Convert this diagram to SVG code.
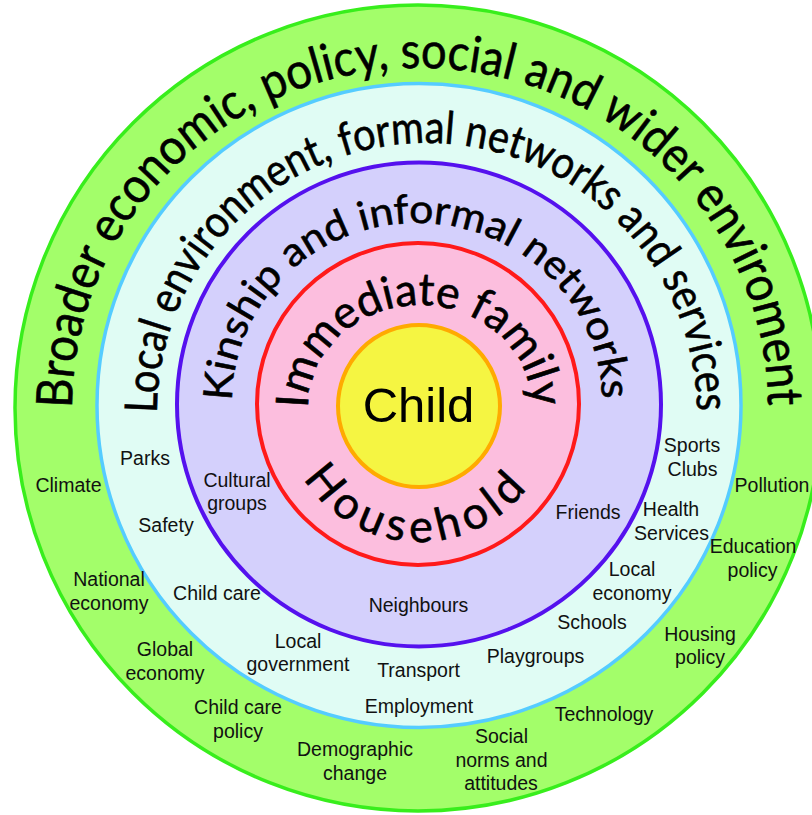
<svg xmlns="http://www.w3.org/2000/svg" xmlns:xlink="http://www.w3.org/1999/xlink" width="812" height="815" viewBox="0 0 812 815">
<style>
.arc{font-family:Lato,"Open Sans","DejaVu Sans",sans-serif;fill:#000;stroke:#000;stroke-width:0.6}
.lbl{font-family:"Liberation Sans",Arial,sans-serif;font-size:19.5px;fill:#111;text-anchor:middle}
</style>
<defs>
<path id="pBroader" d="M 72,408 A 348,340 0 0 1 768,408"/>
<path id="pLocal" d="M 157,413 A 270,270 0 0 1 697,413"/>
<path id="pKin" d="M 232,401 A 185,178 0 0 1 602,401"/>
<path id="pImm" d="M 308,408 A 112,103 0 0 1 532,408"/>
<path id="pHouse" d="M 283,406 A 136,136 0 0 0 555,406"/>
</defs>
<rect width="812" height="815" fill="#fff"/>
<g id="ring-broader">
<circle cx="418" cy="408" r="403" fill="#a3fe6a" stroke="#38ee1c" stroke-width="3.5"/>
<text class="arc" font-size="50"><textPath xlink:href="#pBroader" href="#pBroader" textLength="1078" lengthAdjust="spacingAndGlyphs">Broader economic, policy, social and wider enviroment</textPath></text>
</g>
<g id="ring-local">
<circle cx="419" cy="405.5" r="322" fill="#e0fcf4" stroke="#55ccff" stroke-width="3.5"/>
<text class="arc" font-size="45"><textPath xlink:href="#pLocal" href="#pLocal" textLength="846" lengthAdjust="spacingAndGlyphs">Local environment, formal networks and services</textPath></text>
</g>
<g id="ring-kinship">
<circle cx="419" cy="404.5" r="242" fill="#d4d0fc" stroke="#5511ee" stroke-width="4"/>
<text class="arc" font-size="40"><textPath xlink:href="#pKin" href="#pKin" textLength="568" lengthAdjust="spacingAndGlyphs">Kinship and informal networks</textPath></text>
</g>
<g id="ring-family">
<circle cx="418" cy="404" r="161" fill="#fcbede" stroke="#ff1a1a" stroke-width="4"/>
<text class="arc" font-size="45"><textPath xlink:href="#pImm" href="#pImm" textLength="336" lengthAdjust="spacingAndGlyphs">Immediate family</textPath></text>
<text class="arc" font-size="45"><textPath xlink:href="#pHouse" href="#pHouse" startOffset="76" textLength="262" lengthAdjust="spacing">Household</textPath></text>
</g>
<g id="child">
<circle cx="419" cy="406" r="81" fill="#f5f542" stroke="#ffaa00" stroke-width="4"/>
<text x="418.5" y="422" font-family="Liberation Sans, Arial, sans-serif" font-size="49" text-anchor="middle" fill="#000">Child</text>
</g>
<g id="labels-broader">
<text class="lbl" x="68.5" y="492">Climate</text>
<text class="lbl" x="772" y="492">Pollution</text>
<text class="lbl" x="109" y="586">National</text>
<text class="lbl" x="109" y="610">economy</text>
<text class="lbl" x="753" y="553">Education</text>
<text class="lbl" x="752.5" y="576.5">policy</text>
<text class="lbl" x="165" y="656">Global</text>
<text class="lbl" x="165" y="680">economy</text>
<text class="lbl" x="700" y="641">Housing</text>
<text class="lbl" x="700" y="664">policy</text>
<text class="lbl" x="238" y="714">Child care</text>
<text class="lbl" x="238" y="737.5">policy</text>
<text class="lbl" x="604" y="721">Technology</text>
<text class="lbl" x="355" y="756">Demographic</text>
<text class="lbl" x="355" y="780">change</text>
<text class="lbl" x="501.5" y="743">Social</text>
<text class="lbl" x="501.5" y="766.5">norms and</text>
<text class="lbl" x="501" y="790">attitudes</text>
</g>
<g id="labels-local">
<text class="lbl" x="145" y="465">Parks</text>
<text class="lbl" x="166" y="532">Safety</text>
<text class="lbl" x="217" y="600">Child care</text>
<text class="lbl" x="298" y="648">Local</text>
<text class="lbl" x="298" y="671">government</text>
<text class="lbl" x="418.5" y="677">Transport</text>
<text class="lbl" x="419" y="713">Employment</text>
<text class="lbl" x="535.5" y="663">Playgroups</text>
<text class="lbl" x="592" y="629">Schools</text>
<text class="lbl" x="632" y="576">Local</text>
<text class="lbl" x="632" y="600">economy</text>
<text class="lbl" x="671" y="516">Health</text>
<text class="lbl" x="671.5" y="540">Services</text>
<text class="lbl" x="692" y="452">Sports</text>
<text class="lbl" x="692.5" y="476">Clubs</text>
</g>
<g id="labels-kinship">
<text class="lbl" x="237" y="487">Cultural</text>
<text class="lbl" x="237" y="510">groups</text>
<text class="lbl" x="418.5" y="612">Neighbours</text>
<text class="lbl" x="588" y="519">Friends</text>
</g>
</svg>
